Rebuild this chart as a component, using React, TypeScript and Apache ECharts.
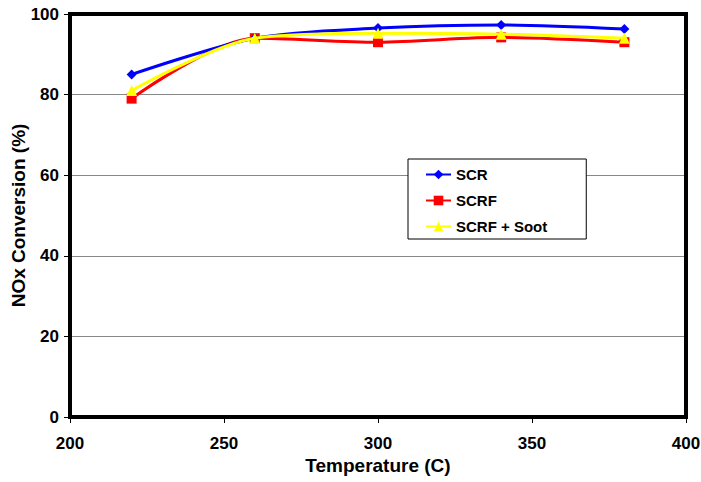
import React, { useEffect, useRef } from "react";
import * as echarts from "echarts";

const temperatures = [220, 260, 300, 340, 380];
const scr = [85, 94, 96.5, 97.3, 96.3];
const scrf = [79, 94, 93, 94.2, 93];
const scrfSoot = [81, 94, 95.2, 95, 94];
const seriesNames = ["SCR", "SCRF", "SCRF + Soot"];

const pair = (ys: number[]) => temperatures.map((t, i) => [t, ys[i]]);

export default function App() {
  const ref = useRef<HTMLDivElement>(null);
  useEffect(() => {
    if (!ref.current) return;
    const chart = echarts.init(ref.current, null, { renderer: "svg" });
    const font = "'Liberation Sans', Arial, sans-serif";
    const frameAxis = {
      type: "value",
      axisLine: { show: true, onZero: false, lineStyle: { color: "#000", width: 4 } },
      axisTick: { show: false },
      axisLabel: { show: false },
      splitLine: { show: false },
    };
    chart.setOption({
      animation: false,
      backgroundColor: "#fff",
      textStyle: { fontFamily: font },
      grid: {
        left: 70,
        right: 15,
        top: 14,
        bottom: 65,
        show: true,
        borderColor: "#000",
        borderWidth: 4,
        outerBoundsMode: "none",
        containLabel: false,
      },
      legend: {
        orient: "vertical",
        left: 408,
        top: 159,
        backgroundColor: "#fff",
        borderColor: "#000",
        borderWidth: 1,
        padding: [8, 39, 5, 17],
        itemWidth: 25,
        itemHeight: 12,
        itemGap: 11,
        textStyle: { fontFamily: font, fontWeight: "bold", fontSize: 15, color: "#000" },
        data: seriesNames,
      },
      xAxis: [
        {
          type: "value",
          min: 200,
          max: 400,
          interval: 50,
          name: "Temperature (C)",
          nameLocation: "middle",
          nameGap: 39,
          nameMoveOverlap: false,
          nameTextStyle: { fontFamily: font, fontWeight: "bold", fontSize: 19, color: "#000" },
          axisLine: { show: true, onZero: false, lineStyle: { color: "#000", width: 4 } },
          axisTick: { show: true, length: 6, lineStyle: { color: "#000" } },
          axisLabel: { fontFamily: font, fontWeight: "bold", fontSize: 17, color: "#000", margin: 18 },
          splitLine: { show: false },
        },
        { ...frameAxis, position: "top", min: 200, max: 400, interval: 50 },
      ],
      yAxis: [
        {
          type: "value",
          min: 0,
          max: 100,
          interval: 20,
          name: "NOx Conversion (%)",
          nameLocation: "middle",
          nameGap: 42,
          nameMoveOverlap: false,
          nameTextStyle: { fontFamily: font, fontWeight: "bold", fontSize: 19, color: "#000" },
          axisLine: { show: true, onZero: false, lineStyle: { color: "#000", width: 4 } },
          axisTick: { show: true, length: 6, lineStyle: { color: "#000" } },
          axisLabel: { fontFamily: font, fontWeight: "bold", fontSize: 17, color: "#000", margin: 11 },
          splitLine: { show: true, lineStyle: { color: "#888", width: 1 } },
        },
        { ...frameAxis, position: "right", min: 0, max: 100, interval: 20 },
      ],
      series: [
        {
          name: seriesNames[0],
          type: "line",
          smooth: 0.3,
          data: pair(scr),
          symbol: "diamond",
          symbolSize: 10,
          color: "#0000ff",
          lineStyle: { width: 3, color: "#0000ff" },
          z: 3,
        },
        {
          name: seriesNames[1],
          type: "line",
          smooth: 0.3,
          data: pair(scrf),
          symbol: "rect",
          symbolSize: 10,
          color: "#ff0000",
          lineStyle: { width: 3, color: "#ff0000" },
          z: 2,
        },
        {
          name: seriesNames[2],
          type: "line",
          smooth: 0.3,
          data: pair(scrfSoot),
          symbol: "triangle",
          symbolSize: 11,
          color: "#ffff00",
          lineStyle: { width: 3, color: "#ffff00" },
          z: 4,
        },
      ],
    });
    return () => chart.dispose();
  }, []);
  return <div ref={ref} style={{ width: 701, height: 482, position: "absolute", left: 0, top: 0 }} />;
}
